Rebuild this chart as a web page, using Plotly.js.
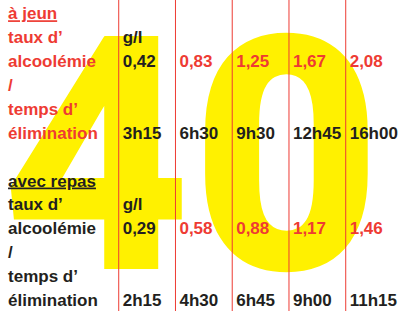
<!DOCTYPE html>
<html>
<head>
<meta charset="utf-8">
<script src="https://cdn.plot.ly/plotly-3.0.1.min.js"></script>
<style>html,body{margin:0;padding:0;background:#fff;}#chart{width:404px;height:311px;}</style>
</head>
<body>
<div id="chart"></div>
<script>
// ---- data ----
var rowLabels1 = ["<u>à jeun</u>", "taux d’", "alcoolémie", "/", "temps d’", "élimination"];
var rowLabels2 = ["<u>avec repas</u>", "taux d’", "alcoolémie", "/", "temps d’", "élimination"];
var unitLabel = "g/l";
var columns = [1, 2, 3, 4, 5];
var alcoolJeun = ["0,42", "0,83", "1,25", "1,67", "2,08"];
var tempsJeun = ["3h15", "6h30", "9h30", "12h45", "16h00"];
var alcoolRepas = ["0,29", "0,58", "0,88", "1,17", "1,46"];
var tempsRepas = ["2h15", "4h30", "6h45", "9h00", "11h15"];
var bigNumber = "40";

// ---- styling ----
var RED = "#EE3B33", BLACK = "#231F20", YELLOW = "#FFF100";
var FONT = "Liberation Sans, Arial, sans-serif";
var BIGFONT = "Roboto, Lato, sans-serif";
var FS = 17;
var LABEL_X = -1.02;
var LINE_DX = -0.07;
var block1 = 0, block2 = 7;

function rows(start, n){ var r=[]; for (var i=0;i<n;i++) r.push(start+i); return r; }
function fill(v, n){ var r=[]; for (var i=0;i<n;i++) r.push(v); return r; }
function colColors(n){ var r=[BLACK]; for (var i=1;i<n;i++) r.push(RED); return r; }

function textTrace(x, y, text, color){
  return {type:"scatter", mode:"text", x:x, y:y, text:text, textposition:"middle right",
    textfont:{family:FONT, size:FS, color:color, weight:700}, hoverinfo:"skip", cliponaxis:false};
}

var traces = [
  {type:"scatter", mode:"text", x:[2.21], y:[7.2], text:[bigNumber], textposition:"middle center",
   textfont:{family:BIGFONT, size:328, color:YELLOW, weight:900}, hoverinfo:"skip", cliponaxis:false},
  textTrace(fill(LABEL_X, 6), rows(block1, 6), rowLabels1, RED),
  textTrace(fill(LABEL_X, 6), rows(block2, 6), rowLabels2, BLACK),
  textTrace([columns[0], columns[0]], [block1+1, block2+1], [unitLabel, unitLabel], BLACK),
  textTrace(columns, fill(block1+2, 5), alcoolJeun, colColors(5)),
  textTrace(columns, fill(block1+5, 5), tempsJeun, BLACK),
  textTrace(columns, fill(block2+2, 5), alcoolRepas, colColors(5)),
  textTrace(columns, fill(block2+5, 5), tempsRepas, BLACK)
];

var shapes = columns.map(function(c){
  return {type:"line", xref:"x", yref:"paper", x0:c+LINE_DX, x1:c+LINE_DX, y0:0, y1:1,
    line:{color:RED, width:1}, layer:"above"};
});

var layout = {
  width:404, height:311, margin:{l:0,r:0,t:0,b:0},
  paper_bgcolor:"#fff", plot_bgcolor:"#fff", showlegend:false,
  xaxis:{range:[-1.162, 5.957], visible:false, fixedrange:true},
  yaxis:{range:[12.385, -0.628], visible:false, fixedrange:true},
  shapes:shapes
};

Plotly.newPlot("chart", traces, layout, {staticPlot:true, displayModeBar:false});
</script>
</body>
</html>
